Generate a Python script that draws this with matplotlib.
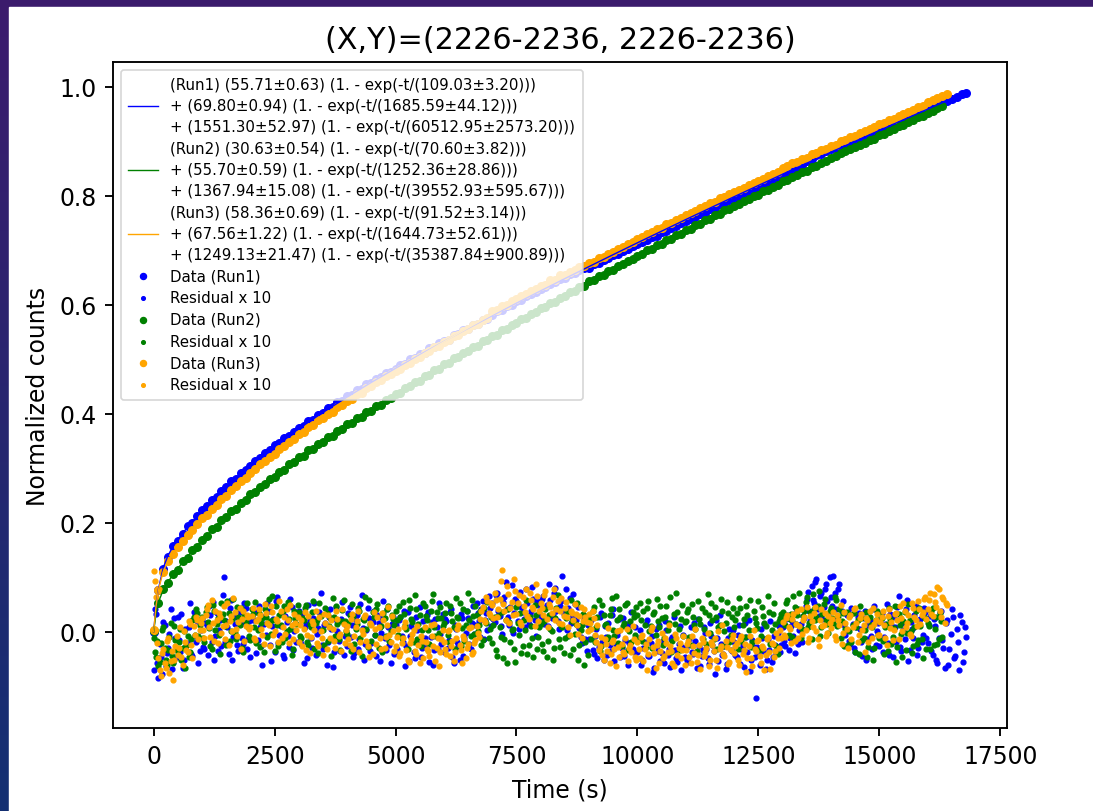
import numpy as np
import matplotlib.pyplot as plt
from matplotlib.patches import Rectangle

# sampling grids (seconds): data every 100 s, residuals every 50 s (plus a 25 s shifted set)
t_end = [16800, 16300, 16400]
t_data = [np.arange(0, e + 1, 100) for e in t_end]
t_res = [np.arange(0, e + 1, 50) for e in t_end]
t_res_mid = [np.arange(25, e, 50) for e in t_end]

# fit curves, read at these times (last point = end of run)
fit_t = [0, 50, 100, 200, 300, 400, 500, 600, 700, 800, 900, 1000, 1500, 2000, 2500,
         3000, 3500, 4000, 4500, 5000, 5500, 6000, 6500, 7000, 7500, 8000, 8500, 9000,
         9500, 10000, 11000, 12000, 13000, 14000, 15000, 16000]
fit_run1 = [0, .0470, .0790, .1179, .1405, .1564, .1694, .1810, .1918, .2021, .2121, .2218,
            .2661, .3052, .3404, .3726, .4025, .4307, .4576, .4834, .5084, .5328, .5566,
            .5800, .6030, .6256, .6480, .6701, .6920, .7137, .7564, .7983, .8395, .8800,
            .9199, .9590, .9899]
fit_run2 = [0, .0342, .0544, .0773, .0921, .1046, .1163, .1273, .1380, .1482, .1582, .1678,
            .2117, .2505, .2858, .3185, .3495, .3791, .4077, .4356, .4628, .4895, .5157,
            .5415, .5669, .5920, .6167, .6411, .6652, .6890, .7357, .7811, .8255, .8687,
            .9108, .9519, .9641]
fit_run3 = [0, .0473, .0772, .1111, .1301, .1439, .1557, .1667, .1772, .1873, .1972, .2068,
            .2513, .2912, .3276, .3613, .3929, .4229, .4516, .4793, .5061, .5322, .5576,
            .5825, .6069, .6309, .6544, .6776, .7004, .7228, .7667, .8093, .8507, .8910,
            .9301, .9681, .9830]

data_run1 = [
    .000, .077, .116, .138, .157, .167, .179, .194, .200, .213,
    .224, .230, .242, .248, .259, .265, .276, .281, .291, .297,
    .304, .314, .318, .328, .333, .342, .346, .355, .359, .367,
    .374, .377, .386, .389, .398, .401, .410, .413, .421, .424,
    .432, .435, .443, .446, .454, .456, .464, .467, .475, .477,
    .482, .490, .492, .500, .502, .510, .512, .520, .522, .529,
    .534, .536, .544, .546, .553, .555, .563, .565, .572, .574,
    .582, .588, .591, .598, .600, .607, .609, .616, .619, .624,
    .629, .632, .639, .641, .648, .650, .656, .658, .664, .667,
    .668, .674, .676, .682, .685, .691, .693, .699, .702, .708,
    .711, .716, .718, .724, .727, .733, .735, .741, .744, .750,
    .753, .758, .761, .767, .769, .775, .777, .784, .786, .792,
    .795, .800, .803, .809, .810, .816, .819, .825, .827, .833,
    .838, .844, .847, .853, .856, .864, .868, .874, .876, .882,
    .885, .887, .893, .891, .897, .899, .905, .907, .913, .915,
    .921, .923, .929, .930, .937, .938, .945, .946, .952, .954,
    .960, .962, .967, .969, .973, .977, .981, .986, .989]
data_run2 = [
    .001, .052, .078, .090, .106, .114, .129, .136, .150, .156,
    .169, .175, .188, .193, .205, .210, .221, .226, .237, .242,
    .252, .256, .266, .271, .280, .284, .294, .297, .307, .311,
    .320, .323, .333, .336, .345, .348, .357, .360, .369, .372,
    .381, .383, .392, .395, .404, .406, .415, .417, .426, .429,
    .437, .439, .448, .451, .459, .461, .470, .472, .480, .483,
    .491, .493, .502, .504, .512, .515, .522, .525, .533, .535,
    .543, .545, .553, .556, .563, .566, .573, .576, .583, .586,
    .594, .596, .603, .606, .613, .616, .623, .626, .632, .635,
    .643, .645, .652, .655, .662, .664, .671, .674, .681, .684,
    .690, .693, .700, .702, .709, .712, .718, .721, .728, .730,
    .737, .739, .746, .749, .755, .758, .764, .767, .773, .776,
    .782, .785, .791, .794, .800, .802, .809, .811, .817, .820,
    .827, .829, .835, .838, .844, .846, .852, .855, .861, .864,
    .869, .873, .878, .882, .886, .889, .894, .897, .903, .905,
    .911, .914, .919, .922, .928, .930, .936, .939, .944, .947,
    .952, .955, .961, .964]
data_run3 = [
    .003, .076, .109, .129, .142, .155, .166, .178, .186, .197,
    .208, .215, .226, .233, .244, .250, .260, .267, .276, .283,
    .292, .298, .307, .313, .321, .327, .335, .341, .349, .354,
    .362, .367, .375, .380, .388, .392, .400, .404, .412, .416,
    .424, .428, .436, .439, .447, .451, .458, .462, .469, .473,
    .479, .483, .490, .493, .501, .504, .511, .515, .522, .525,
    .532, .535, .542, .545, .552, .555, .562, .565, .572, .575,
    .588, .590, .598, .600, .607, .610, .617, .619, .626, .629,
    .635, .637, .645, .646, .654, .655, .661, .663, .670, .672,
    .676, .679, .685, .688, .694, .697, .703, .706, .712, .715,
    .721, .724, .730, .733, .739, .741, .748, .750, .756, .759,
    .764, .769, .772, .777, .781, .786, .789, .795, .798, .803,
    .807, .811, .815, .819, .823, .828, .831, .836, .840, .844,
    .851, .854, .860, .862, .868, .870, .876, .878, .884, .886,
    .892, .894, .900, .902, .908, .910, .916, .918, .923, .926,
    .931, .934, .939, .941, .946, .950, .954, .957, .962, .965,
    .972, .975, .980, .983, .987]

# residuals x 10 on the 50 s grid
res_run1 = [
    -.071, .032, -.084, -.046, .018, -.062, -.029, .041, -.055, -.012, .027, -.038, -.066, .006, -.021, .052, -.044, -.008, .019, -.035,
    .024, -.031, .012, .047, -.018, -.052, .035, .003, -.027, .101, .019, -.041, .058, -.009, .028, -.036, .015, -.022, .044, -.013,
    -.046, .021, .037, -.015, .008, -.061, .029, .052, -.024, .011, -.037, .064, -.005, .033, -.049, .018, -.028, .045, .002, -.019,
    .038, -.022, -.057, .014, .049, -.011, .026, -.043, .007, .071, -.031, .016, -.018, .042, -.064, .023, .001, -.035, .055, -.008,
    -.027, .046, .012, -.039, .031, -.014, .068, -.052, .004, .025, -.021, .039, -.045, .017, -.003, .057, -.033, .009, -.058, .028,
    .013, -.041, .027, -.018, -.062, .036, -.007, .021, -.049, .004, .045, -.029, -.012, .031, -.055, .018, -.034, .008, .052, -.023,
    -.038, .019, -.015, .041, -.057, .006, -.026, .033, -.044, -.002, .025, -.031, .048, .012, .035, -.009, .057, .021, .003, .044,
    .052, .018, .071, .029, -.004, .063, .041, .012, .085, .034, .057, .006, .046, .024, .078, .015, .039, .061, -.008, .049,
    .027, .066, .043, .011, .058, .032, .081, .019, .047, .102, .036, .004, .062, .028, .051, .013, .007, -.021, .024, -.035,
    -.014, .022, -.041, .006, -.028, .035, -.052, -.009, .017, -.036, .042, -.023, .001, -.047, .026, -.015, -.061, .013, -.031, .008,
    -.037, .004, -.052, -.019, .021, -.044, -.008, -.066, -.027, .012, -.039, -.058, .003, -.031, -.014, .028, -.049, -.022, -.071, -.005,
    -.029, -.056, .009, -.041, -.017, .024, -.063, -.034, -.002, -.048, .016, -.025, -.078, -.011, .031, -.043, -.026, -.059, .005, -.036,
    -.018, -.047, .013, -.032, -.064, -.009, .022, -.051, -.028, -.121, -.041, .006, -.035, -.069, -.014, .019, -.046, -.024, -.003, -.038,
    .008, -.027, .031, -.012, .019, -.039, .042, .004, -.018, .026, .061, .038, .084, .052, .097, .029, .071, .046, .088, .033,
    .064, .103, .041, .079, .018, .057, -.006, .034, -.022, .015, -.038, .027, .006, -.045, .039, -.014, .022, -.031, .048, .001,
    -.026, .035, -.009, .051, -.042, .013, .028, -.019, .066, -.035, .004, .041, -.053, .018, -.012, .047, -.029, .024, -.006, .037,
    -.021, .029, -.043, .011, -.058, .036, -.015, -.067, .022, -.032, .041, -.049, .005, -.071, .018, -.037, -.009]
res_run2 = [
    -.012, -.046, -.063, -.021, .009, -.052, -.034, .017, -.058, -.015, -.041, .006, -.029, -.067, -.008, -.037, .021, -.005, .034, .012,
    .028, -.019, .046, .007, -.031, .039, .015, -.006, .052, .021, -.024, .035, .002, .061, -.013, .027, .043, -.037, .018, .008,
    -.015, .033, .054, .004, -.028, .025, .041, -.009, .019, .066, -.035, .012, .031, -.018, .047, .001, .024, -.042, .038, .014,
    .036, -.011, .022, .049, -.025, .008, .057, .017, -.039, .029, .003, .044, -.016, .025, .062, -.007, .015, -.033, .040, .019,
    -.004, .031, .051, -.023, .014, .038, -.045, .021, .006, .059, -.017, .027, .042, -.029, .011, .034, -.008, .048, .002, .023,
    .039, -.006, .027, .055, .012, -.031, .044, .018, .067, -.014, .031, .004, .048, .021, -.022, .057, .009, .036, -.003, .025,
    .016, .052, -.019, .034, .008, .062, .025, -.027, .041, .013, .071, -.008, .029, .047, .002, .038, -.015, .019, .055, .006,
    -.021, .027, -.044, .009, .036, -.013, -.058, .018, .003, -.032, .045, -.006, -.039, .022, .058, -.024, .011, -.047, .031, -.009,
    .014, -.036, .041, -.017, .006, -.052, .025, .067, -.028, .008, -.011, .037, -.043, .019, -.004, .052, -.025, .013, -.061, .029,
    .023, -.014, .046, .008, .058, -.027, .031, .015, -.009, .042, .004, .065, -.021, .027, .011, .049, -.033, .019, .036, -.005,
    .031, .052, -.017, .013, .044, .002, -.029, .037, .061, .009, .026, -.012, .048, .017, -.038, .033, .071, .005, .024, -.008,
    .019, .041, -.025, .028, .006, .057, .015, -.014, .036, .069, -.003, .022, .045, -.031, .012, .038, .001, .054, -.019, .027,
    .008, .035, .062, -.016, .024, .047, .003, -.028, .039, .017, .056, -.007, .029, .011, .066, -.022, .033, .014, -.041, .025,
    .037, .012, .059, .024, -.009, .046, .031, .071, .005, .038, .063, .017, -.014, .042, .028, .075, .009, .051, .022, -.003,
    .044, .016, .058, .029, -.011, .035, .006, -.024, .031, .012, -.038, .021, .047, -.015, .004, -.046, .027, .009, -.029, .038,
    -.012, .025, -.041, .014, .043, -.023, .007, -.056, .032, -.004, .019, -.034, .051, .002, -.027, .038, -.015, .011, -.048, .026,
    .017, -.031, .044, .006, -.022, .035, -.009]
res_run3 = [
    .112, .064, -.048, -.082, -.031, -.067, -.012, -.054, -.089, -.026, -.043, .008, -.061, -.019, -.037, .014, -.048, -.006, .021, .003,
    .026, -.011, .041, .009, .058, -.017, .022, .034, -.003, .047, .013, -.024, .029, .062, .005, .018, -.031, .039, .011, .027,
    .008, .044, -.015, .023, .031, -.006, .051, .016, -.027, .036, .002, .019, .057, -.012, .028, .041, -.021, .013, .033, .004,
    -.018, .021, .005, -.034, .029, -.009, .014, .038, -.026, .002, -.043, .017, .031, -.011, .006, -.029, .024, -.004, .042, -.021,
    .011, -.025, .033, -.007, .019, -.038, .004, .027, -.016, -.047, .013, .036, -.022, .008, -.031, .022, -.009, .045, -.018, .001,
    -.027, .006, -.039, -.012, .018, -.051, -.021, -.004, -.036, .011, -.058, -.017, .009, -.032, -.045, -.008, .015, -.029, -.062, -.014,
    -.019, -.041, .004, -.026, -.053, -.011, .013, -.034, -.007, -.048, -.022, .009, -.038, -.015, -.003, .024, .046, .018, .057, .031,
    .049, .072, .028, .061, .113, .039, .084, .017, .055, .096, .033, .068, .012, .047, .079, .024, .058, .041, .087, .019,
    .052, .031, .074, .009, .046, .063, .022, .057, .038, .014, .044, .027, -.006, .035, .051, .012, .029, -.011, .041, .018,
    .033, .006, .025, -.018, -.034, -.009, -.051, -.022, .007, -.041, -.015, -.063, -.028, .004, -.037, -.012, -.054, -.024, .011, -.046,
    -.019, -.048, -.006, -.032, -.071, -.014, .009, -.039, -.025, -.057, -.003, -.044, -.021, .013, -.036, -.062, -.011, -.029, -.049, -.008,
    -.034, -.016, -.058, -.027, .006, -.042, -.069, -.019, -.037, -.002, -.051, -.024, -.011, -.066, -.031, .012, -.045, -.028, -.056, -.013,
    -.039, -.021, -.061, -.007, -.033, -.074, -.026, -.048, .004, -.036, -.015, -.057, -.029, -.043, -.009, -.068, -.022, -.035, -.012, .003,
    .018, -.009, .031, .006, .024, -.017, .039, .011, -.004, .027, .045, -.012, .019, .034, .002, -.026, .041, .013, -.008, .029,
    .007, .036, -.015, .022, .049, -.003, .016, -.029, .031, .009, .043, -.018, .025, .004, -.037, .021, .038, -.011, .014, .033,
    -.006, .027, .012, -.024, .041, .018, .004, .035, -.013, .026, .052, .009, .031, -.008, .044, .021, .057, .015, .036, .063,
    .041, .072, .029, .055, .083, .038, .064, .017, .049]

# residuals x 10 on the shifted grid (25, 75, 125, ... s)
res_mid_run1 = [
    .041, -.058, -.023, -.077, .012, -.039, -.004, -.068, .026, -.047, -.015, .033, -.052, -.026, .009, -.041, .037, -.019, -.057, .004,
    -.028, .016, -.043, .031, .054, -.007, -.035, .022, .067, -.019, .008, .043, -.051, .014, -.024, .036, -.011, .053, -.032, .019,
    .027, -.013, -.039, .048, -.026, .015, -.006, .039, -.054, .023, .056, -.021, .011, -.042, .029, -.008, .061, -.033, .017, .034,
    -.016, .032, .009, -.048, .021, -.029, .053, -.004, .037, -.025, .012, -.061, .028, .005, -.038, .046, -.017, .024, -.043, .013,
    .035, -.009, -.047, .022, -.031, .051, .007, -.022, .043, -.036, .018, -.006, .031, -.054, .026, -.012, .041, -.025, .015, -.041,
    -.031, .022, -.008, .039, -.027, -.053, .011, -.038, .027, -.015, -.046, .019, -.024, .036, -.009, -.061, .024, -.031, -.004, .033,
    .024, -.029, .037, -.046, .013, -.018, -.052, .026, -.011, .038, -.023, .016, -.004, .052, .019, .041, -.013, .034, .066, .011,
    .024, .067, .039, .011, .054, .092, .028, .046, -.002, .061, .019, .073, .037, .008, .052, .031, .083, .022, .057, .035,
    .061, .014, .049, .088, .026, .071, .039, .005, .056, .033, .078, .043, .017, .069, .021, .045, -.009, .031, -.014, .012,
    .019, -.033, -.007, -.049, .028, -.018, .011, -.042, -.025, .031, -.054, -.006, .023, -.029, -.044, .015, -.021, .036, -.038, -.012,
    -.011, -.061, -.029, .014, -.045, -.021, -.073, .006, -.036, -.054, -.017, .019, -.042, -.064, -.009, -.033, -.056, .011, -.028, -.047,
    -.052, -.014, -.038, .016, -.067, -.026, -.045, .008, -.031, -.059, -.007, -.036, .021, -.053, -.022, -.041, -.069, -.012, -.034, .004,
    -.043, -.006, -.059, -.024, .017, -.037, -.072, -.015, -.046, -.028, -.061, -.011, .014, -.052, -.033, -.056, -.008, -.039, .011, -.024,
    -.016, .024, -.034, .011, -.007, .036, -.023, .015, .029, .047, .073, .019, .058, .091, .041, .066, .024, .079, .056, .101,
    .047, .072, .026, .088, .039, .013, .031, -.016, .044, -.029, .008, .035, -.019, .026, -.051, .012, -.007, .041, -.024, .017,
    .022, -.038, .014, -.021, .033, -.047, .009, .045, -.028, .017, -.014, .058, -.033, .006, .031, -.042, .012, -.019, .043, -.011,
    .013, -.036, .024, -.052, -.011, .039, -.029, .016, -.061, -.004, .027, -.045, -.018, .031, -.056, .009]
res_mid_run2 = [
    -.038, -.017, -.055, .004, -.029, -.061, -.009, -.044, .011, -.033, -.019, -.052, .002, -.026, -.047, -.013, .027, .041, -.008, .023,
    -.012, .037, .018, -.027, .049, .004, .026, -.041, .033, .011, .057, -.016, .024, -.003, .045, .013, -.029, .031, .052, -.008,
    .042, .009, -.021, .035, .016, -.038, .028, .061, -.004, .022, .047, -.026, .013, .039, -.011, .055, .006, -.031, .026, .049,
    -.007, .026, .043, -.019, .014, .037, -.032, .021, .052, .003, -.024, .034, .011, -.045, .028, .048, -.013, .019, .058, .002,
    .017, -.036, .029, .006, .044, -.012, .024, .063, -.028, .015, .036, -.005, .051, .009, -.038, .026, .041, -.016, .031, .012,
    .021, .048, -.012, .033, .006, .059, .024, -.019, .041, .015, -.027, .052, .029, .003, .038, .069, -.008, .026, .045, .011,
    .034, -.006, .047, .019, -.032, .028, .053, .007, -.016, .039, .022, .058, -.004, .031, .012, -.025, .044, .016, -.011, .027,
    .013, -.034, .029, -.009, -.048, .021, .042, -.018, .006, -.056, .016, .034, -.027, .003, -.041, .027, -.012, .049, -.031, .008,
    -.023, .019, -.046, .031, .002, -.029, .044, -.014, .011, -.039, .026, -.007, .058, -.032, .015, -.051, .004, .033, -.018, -.042,
    .006, .038, -.019, .027, -.036, .049, .013, -.014, .031, .062, -.008, .022, .041, -.027, .017, .053, .002, -.019, .028, .046,
    -.014, .021, .039, -.028, .056, .011, .033, -.006, .019, .047, -.024, .028, .004, .063, -.017, .014, .036, -.033, .049, .018,
    .036, -.009, .051, .012, -.036, .024, .043, .006, -.022, .031, .053, -.013, .027, .009, .061, -.026, .017, .035, -.005, .044,
    .021, -.031, .043, .012, -.009, .031, .058, -.019, .026, .007, -.034, .045, .016, -.012, .037, .004, .052, -.027, .019, .033,
    .024, .053, -.006, .033, .066, .014, .041, -.012, .029, .054, .008, .036, .069, .021, .047, -.008, .032, .061, .015, .039,
    .026, .063, .011, .041, .019, -.027, .037, .002, -.019, .034, .008, -.041, .025, -.011, .036, -.028, .013, -.052, .021, -.006,
    .031, -.017, .008, -.036, .024, -.009, .047, -.028, .013, -.047, .036, -.003, .021, -.039, .009, -.022, .044, -.013, .027, -.031,
    .011, .038, -.024, .027, -.014, .019]
res_mid_run3 = [
    .093, -.021, -.071, -.039, -.058, -.017, -.076, -.035, -.051, -.008, -.029, -.047, .002, -.033, .019, -.024, .011, .028, -.013, .016,
    .004, .031, .049, -.009, .016, .038, -.021, .027, .011, -.014, .053, .019, .002, .036, -.008, .044, .023, -.017, .031, .006,
    .029, -.012, .019, .042, .006, -.023, .034, .013, .047, -.006, .024, -.018, .038, .009, -.004, .021, .049, -.014, .016, .027,
    .012, -.027, .036, -.006, -.039, .019, .003, -.021, .027, -.012, .033, -.031, .008, .022, -.017, .039, -.008, -.036, .015, .004,
    -.014, .024, -.031, .009, .038, -.019, -.004, .031, -.027, .016, -.041, .006, .027, -.012, .034, -.029, .013, -.006, .029, -.035,
    -.009, -.044, -.021, .008, -.033, -.056, -.013, .004, -.041, -.024, -.007, -.049, -.019, -.036, .012, -.027, -.053, -.011, -.038, .003,
    -.032, .002, -.045, -.016, -.037, .006, -.024, -.058, -.013, -.029, .007, -.041, -.021, .011, -.009, .039, .021, .063, .034, .052,
    .026, .058, .041, .094, .051, .022, .069, .043, .031, .074, .052, .018, .063, .037, .029, .071, .046, .011, .065, .038,
    .043, .067, .024, .051, .035, .079, .041, .016, .062, .029, .054, .008, .039, .021, .033, -.004, .046, .019, .027, .002,
    .016, .039, -.006, .012, -.027, -.043, -.014, -.036, -.058, -.019, -.031, .002, -.047, -.023, -.041, .006, -.029, -.038, -.013, -.052,
    -.031, -.009, -.054, -.022, -.041, .003, -.028, -.066, -.017, -.035, -.049, -.012, -.038, -.026, -.058, -.004, -.043, -.021, -.033, -.061,
    -.022, -.047, -.008, -.039, -.055, -.024, -.012, -.044, -.029, -.063, -.018, -.036, -.052, .001, -.027, -.041, -.016, -.059, -.033, -.005,
    -.027, -.052, -.013, -.041, -.023, -.049, -.008, -.062, -.031, -.017, -.044, -.026, -.071, -.014, -.038, -.021, -.047, -.003, -.029, -.011,
    -.006, .026, .009, -.021, .033, .015, -.011, .041, .021, .003, -.018, .029, .008, .046, -.014, .022, .011, .035, -.003, .017,
    .024, -.008, .031, .013, -.022, .037, .006, .028, -.014, .041, .017, -.006, .033, .012, .026, -.019, .009, .044, .021, -.005,
    .018, .039, -.011, .029, .007, -.015, .033, .021, .047, .002, .038, .016, -.004, .053, .027, .011, .042, .031, .061, .024,
    .058, .033, .069, .046, .078, .027, .061, .052]

fit_labels = [
    "(Run1) (55.71±0.63) (1. - exp(-t/(109.03±3.20)))\n"
    "+ (69.80±0.94) (1. - exp(-t/(1685.59±44.12)))\n"
    "+ (1551.30±52.97) (1. - exp(-t/(60512.95±2573.20)))",
    "(Run2) (30.63±0.54) (1. - exp(-t/(70.60±3.82)))\n"
    "+ (55.70±0.59) (1. - exp(-t/(1252.36±28.86)))\n"
    "+ (1367.94±15.08) (1. - exp(-t/(39552.93±595.67)))",
    "(Run3) (58.36±0.69) (1. - exp(-t/(91.52±3.14)))\n"
    "+ (67.56±1.22) (1. - exp(-t/(1644.73±52.61)))\n"
    "+ (1249.13±21.47) (1. - exp(-t/(35387.84±900.89)))",
]
colors = ["blue", "green", "orange"]
fits = [fit_run1, fit_run2, fit_run3]
datas = [data_run1, data_run2, data_run3]
resids = [res_run1, res_run2, res_run3]
resids_mid = [res_mid_run1, res_mid_run2, res_mid_run3]

sc = 1.694  # overall scale of the original picture
plt.rcParams['font.size'] = 10 * sc
plt.rcParams['axes.linewidth'] = 0.8 * sc

fig = plt.figure(figsize=(10.93, 8.12), dpi=100)

# slide background behind the white figure
bg = fig.add_axes([0, 0, 1, 1], zorder=-10)
grad = np.linspace(0, 1, 256).reshape(-1, 1)
top = np.array([0.235, 0.106, 0.427])
bottom = np.array([0.078, 0.188, 0.447])
bg.imshow(top + (bottom - top) * grad[:, :, None], aspect='auto', extent=[0, 1, 0, 1])
bg.add_patch(Rectangle((9 / 1093, 0), 1, 1 - 8 / 812, color='white'))
bg.set_xlim(0, 1)
bg.set_ylim(0, 1)
bg.axis('off')

ax = fig.add_axes([113 / 1093, 1 - 729 / 812, 894 / 1093, 666 / 812])

handles_fit = []
handles_pts = []
for i in range(3):
    d = ax.scatter(t_data[i], datas[i], s=30, color=colors[i], label="Data (Run%d)" % (i + 1))
    r = ax.scatter(np.concatenate([t_res[i], t_res_mid[i]]),
                   np.concatenate([resids[i], resids_mid[i]]),
                   s=12, color=colors[i], label="Residual x 10")
    handles_pts += [d, r]
for i in range(3):
    ft = fit_t + [t_end[i]]
    line, = ax.plot(ft, fits[i], color=colors[i], lw=1.0, label=fit_labels[i])
    handles_fit.append(line)

ax.tick_params(labelsize=10 * sc, length=3.5 * sc, width=0.8 * sc, pad=3.5 * sc)
ax.set_title("(X,Y)=(2226-2236, 2226-2236)", fontsize=21.8, pad=6 * sc)
ax.set_xlabel("Time (s)", fontsize=10 * sc, labelpad=4 * sc)
ax.set_ylabel("Normalized counts", fontsize=10 * sc, labelpad=4 * sc)

handles = handles_fit + handles_pts
leg = ax.legend(handles, [h.get_label() for h in handles], loc='upper left',
                fontsize=10.8, borderpad=0.5, labelspacing=0.45)
leg.get_frame().set_linewidth(1.2)
for txt in leg.get_texts():
    txt.set_linespacing(1.5)
for k, h in enumerate(leg.legend_handles[3:]):
    h.set_sizes([19 if k % 2 == 0 else 7])

fig.savefig("out.png", dpi=100)
